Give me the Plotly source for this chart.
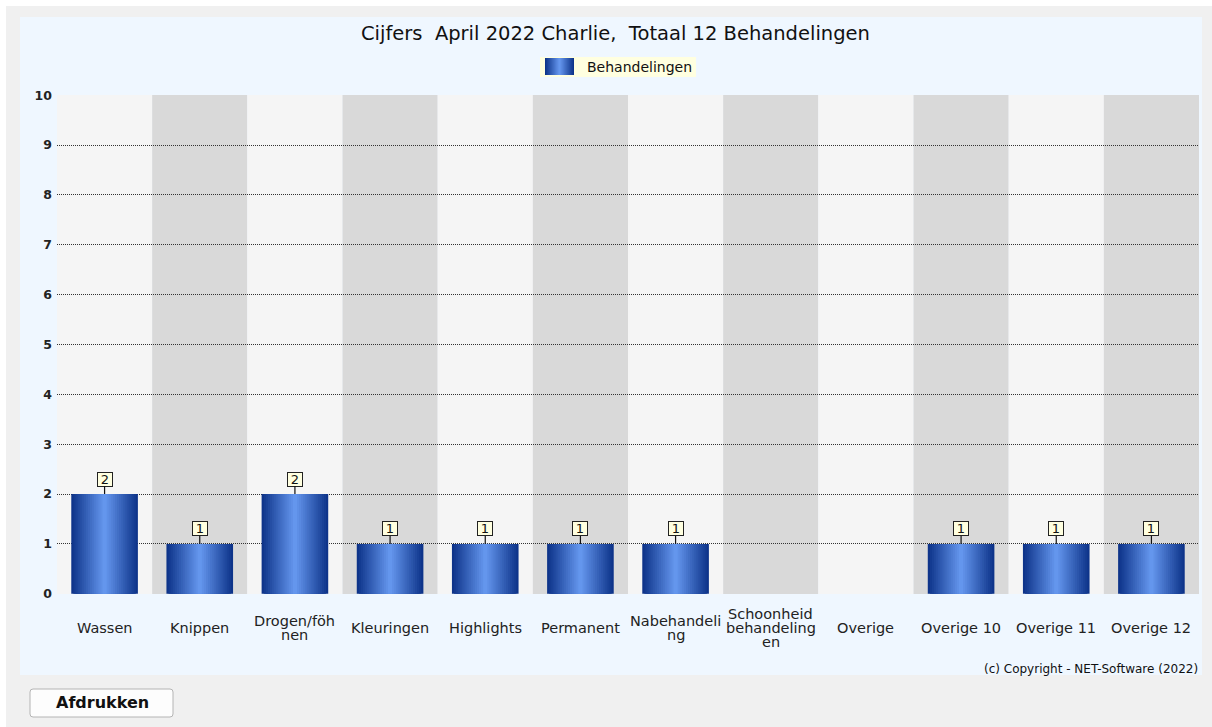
import plotly.graph_objects as go

# ---------------- data ----------------
categories = ["Wassen", "Knippen", "Drogen/föhnen", "Kleuringen", "Highlights",
              "Permanent", "Nabehandeling", "Schoonheid behandelingen", "Overige",
              "Overige 10", "Overige 11", "Overige 12"]
values = [2, 1, 2, 1, 1, 1, 1, 0, 0, 1, 1, 1]
tick_labels = ["Wassen", "Knippen", "Drogen/föh\nnen", "Kleuringen", "Highlights",
               "Permanent", "Nabehandeli\nng", "Schoonheid\nbehandeling\nen", "Overige",
               "Overige 10", "Overige 11", "Overige 12"]
y_ticks = list(range(0, 11))
series_name = "Behandelingen"
title_text = "Cijfers\u00a0\u00a0April 2022 Charlie,\u00a0\u00a0Totaal " + str(sum(values)) + " Behandelingen"
copyright_text = "(c) Copyright - NET-Software (2022)"
button_text = "Afdrukken"

# ---------------- layout geometry ----------------
W, H = 1212, 727
ML, MR, MT, MB = 57, 13, 95, 133
PW, PH = W - ML - MR, H - MT - MB


def px2x(px):
    return (px - ML) / PW


def px2y(py):
    return (H - MB - py) / PH


FONT = "DejaVu Sans"
edge = (14, 52, 138)
center = (100, 150, 237)
N = 16
bar_w = 0.70


def grad_color(t):
    c = tuple(round(edge[i] + (center[i] - edge[i]) * t) for i in range(3))
    return "rgb(%d,%d,%d)" % c


fig = go.Figure()

for k in range(N):
    fig.add_trace(go.Bar(
        x=list(range(len(categories))), y=values,
        width=bar_w * (1 - k / N),
        marker=dict(color=grad_color(k / (N - 1)), line=dict(width=0)),
        name=series_name,
        showlegend=False,
        hoverinfo="skip" if k else "y",
    ))


def prect(x0, x1, y0, y1, fill, line=None, layer="below"):
    return dict(type="rect", xref="paper", yref="paper", x0=px2x(x0), x1=px2x(x1),
                y0=px2y(y1), y1=px2y(y0), fillcolor=fill,
                line=line or dict(width=0), layer=layer)


shapes = []
# page frame
shapes.append(prect(0, W, 0, 6, "white"))
shapes.append(prect(0, 6, 0, H, "white"))
# chart panel
shapes.append(prect(20, 1202, 17, 675, "#eff7ff"))
# alternating category stripes
for i in range(len(categories)):
    shapes.append(dict(type="rect", xref="x", yref="paper", x0=i - 0.5, x1=i + 0.5,
                       y0=0, y1=1, fillcolor="#d9d9d9" if i % 2 else "#f5f5f5",
                       line=dict(width=0), layer="below"))
# legend box with gradient swatch
shapes.append(prect(540, 696, 57, 77, "#ffffe0"))
sw_x0, sw_x1, sw_y0, sw_y1 = 545, 574, 58, 75
half = (sw_x1 - sw_x0) / 2
for k in range(N):
    inset = half * k / N
    shapes.append(prect(sw_x0 + inset, sw_x1 - inset, sw_y0, sw_y1, grad_color(k / (N - 1))))
# print button (rounded rectangle)
bx0, bx1, by0, by1, r = 30, 173, 689, 717, 3
X = lambda v: px2x(v)
Y = lambda v: px2y(v)
path = ("M {a},{b} L {c},{b} Q {d},{b} {d},{e} L {d},{f} Q {d},{g} {c},{g} "
        "L {a},{g} Q {h},{g} {h},{f} L {h},{e} Q {h},{b} {a},{b} Z").format(
    a=X(bx0 + r), b=Y(by0), c=X(bx1 - r), d=X(bx1), e=Y(by0 + r), f=Y(by1 - r),
    g=Y(by1), h=X(bx0))
shapes.append(dict(type="path", xref="paper", yref="paper", path=path, fillcolor="#fdfdfd",
                   line=dict(color="#b4b4b4", width=1), layer="below"))

annotations = []
# title
annotations.append(dict(text=title_text, xref="paper", yref="paper", x=px2x(615), y=px2y(33),
                        xanchor="center", yanchor="middle", showarrow=False,
                        font=dict(family=FONT, size=19.5, color="#111")))
# legend text
annotations.append(dict(text=series_name, xref="paper", yref="paper", x=px2x(585), y=px2y(67),
                        xanchor="left", yanchor="middle", showarrow=False,
                        font=dict(family=FONT, size=14, color="#111")))
# category labels (line by line, centred vertically)
line_gap = 14
for i, lab in enumerate(tick_labels):
    lines = lab.split("\n")
    n = len(lines)
    for j, ln in enumerate(lines):
        off = (j - (n - 1) / 2) * line_gap
        annotations.append(dict(text=ln, xref="x", yref="paper", x=i, y=0,
                                yshift=-34 - off, xanchor="center", yanchor="middle",
                                showarrow=False, font=dict(family=FONT, size=14.5, color="#222")))
# value labels
for i, v in enumerate(values):
    if v > 0:
        annotations.append(dict(text=str(v), x=i, y=v, xref="x", yref="y",
                                showarrow=True, arrowhead=0, arrowwidth=1.2, arrowcolor="#111",
                                ax=0, ay=-15, bgcolor="#ffffe0", bordercolor="#222",
                                borderwidth=1, borderpad=0, width=14, height=13,
                                font=dict(family=FONT, size=13, color="#111")))
# copyright
annotations.append(dict(text=copyright_text, xref="paper", yref="paper", x=px2x(1200), y=px2y(669),
                        xanchor="right", yanchor="middle", showarrow=False,
                        font=dict(family=FONT, size=12, color="#111")))
# button text
annotations.append(dict(text="<b>" + button_text + "</b>", xref="paper", yref="paper",
                        x=px2x(102), y=px2y(703), xanchor="center", yanchor="middle",
                        showarrow=False, font=dict(family=FONT, size=16, color="#111")))

fig.update_layout(
    width=W, height=H, autosize=False,
    margin=dict(l=ML, r=MR, t=MT, b=MB),
    paper_bgcolor="#f0f0f0",
    plot_bgcolor="#f5f5f5",
    barmode="overlay",
    shapes=shapes,
    annotations=annotations,
    showlegend=False,
    xaxis=dict(range=[-0.5, len(categories) - 0.5], showticklabels=False, showgrid=False,
               zeroline=False, showline=False, ticks="", fixedrange=True),
    yaxis=dict(range=[-0.004, 10.004], tickvals=y_ticks, showgrid=True, gridcolor="#333",
               griddash="1px,1px", gridwidth=1, zeroline=False, showline=False, ticks="",
               ticklabelstandoff=4,
               tickfont=dict(family=FONT, size=12.5, color="#222", weight="bold"),
               fixedrange=True),
)

fig.write_html("out.html", config={"displayModeBar": False},
               post_script="document.body.style.margin='0';document.body.style.padding='0';")
